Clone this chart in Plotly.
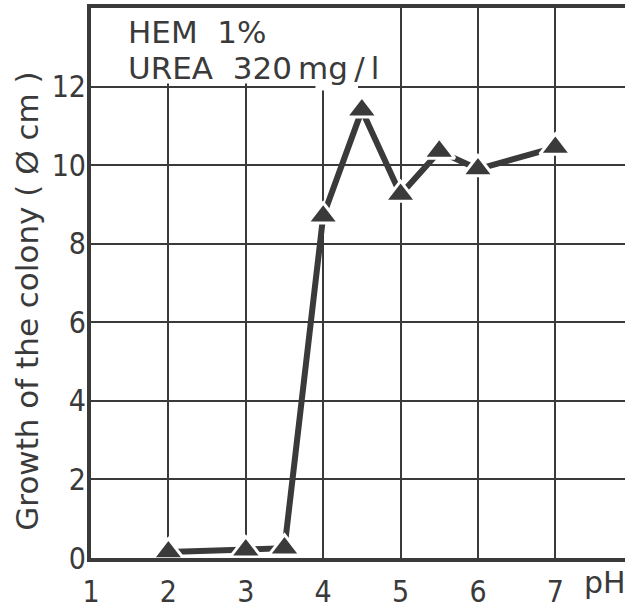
import plotly.graph_objects as go

ph = [2, 3, 3.5, 4, 4.5, 5, 5.5, 6, 7]
growth = [0.15, 0.2, 0.25, 8.7, 11.4, 9.25, 10.35, 9.9, 10.45]
x_ticks = [1, 2, 3, 4, 5, 6, 7]
y_ticks = [0, 2, 4, 6, 8, 10, 12]
label_lines = ["HEM\u00a0\u00a01%", "UREA\u00a0\u00a0320\u2009mg\u2009/\u2009l"]
y_title = "Growth of the colony (\u00a0Ø cm\u00a0)"

INK = "#3a3a3a"
FONT = "DejaVu Sans"
TICKFONT = "DejaVu Sans Condensed"

fig = go.Figure()
fig.add_trace(go.Scatter(
    x=ph, y=growth, mode="lines+markers",
    line=dict(color=INK, width=6),
    marker=dict(symbol="triangle-up", size=27, color=INK,
                line=dict(color="white", width=3)),
    cliponaxis=False, showlegend=False,
))

# white cover for the label box above the 12 gridline
fig.add_shape(type="rect", xref="x", yref="y", x0=1, x1=4.9, y0=12.08, y1=14,
              fillcolor="white", line=dict(width=0), layer="between")
fig.add_shape(type="rect", xref="x", yref="y", x0=3.9, x1=4.45, y0=11.9, y1=12.1,
              fillcolor="white", line=dict(width=0), layer="between")

for i, t in enumerate(label_lines):
    fig.add_annotation(x=1.45, y=[13.4, 12.47][i], xref="x", yref="y", text=t,
                       showarrow=False, xanchor="left", yanchor="middle",
                       font=dict(family=FONT, size=31, color=INK))

fig.add_annotation(x=7.64, y=0, xref="x", yref="paper", yshift=-24, text="pH",
                   showarrow=False, xanchor="center", yanchor="middle",
                   font=dict(family=FONT, size=30, color=INK))

fig.add_annotation(x=0, y=0.466, xref="paper", yref="paper", xshift=-64,
                   text=y_title, textangle=-90,
                   showarrow=False, xanchor="center", yanchor="middle",
                   font=dict(family=FONT, size=31, color=INK))

fig.update_xaxes(range=[1, 7.9], tickvals=x_ticks, ticktext=[str(v) for v in x_ticks],
                 showgrid=True, gridcolor=INK, gridwidth=1.5,
                 showline=True, linecolor=INK, linewidth=4, mirror=True,
                 zeroline=False, ticks="", ticklabelstandoff=4,
                 tickfont=dict(family=TICKFONT, size=30, color=INK))
fig.update_yaxes(range=[0, 14], tickvals=y_ticks, ticktext=[str(v) for v in y_ticks],
                 showgrid=True, gridcolor=INK, gridwidth=1.5,
                 showline=True, linecolor=INK, linewidth=4, mirror=False,
                 zeroline=False, ticks="", ticklabelstandoff=-5,
                 tickfont=dict(family=TICKFONT, size=30, color=INK))

fig.update_layout(width=625, height=609, margin=dict(l=91, r=0, t=8, b=43),
                  plot_bgcolor="white", paper_bgcolor="white")

fig.write_html("out.html")
